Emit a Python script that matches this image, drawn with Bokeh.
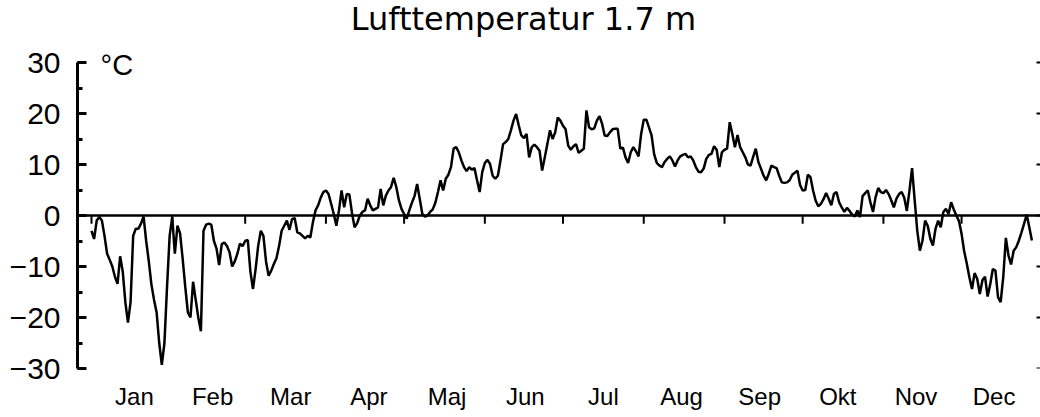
from bokeh.plotting import figure
from bokeh.models import Range1d, Span, Label, SingleIntervalTicker, FixedTicker
from bokeh.embed import file_html
from bokeh.resources import INLINE

title_text = "Lufttemperatur 1.7 m"
unit_label = "°C"
months = ["Jan", "Feb", "Mar", "Apr", "Maj", "Jun", "Jul", "Aug", "Sep", "Okt", "Nov", "Dec"]
month_start_days = [0, 31, 59, 90, 120, 151, 181, 212, 243, 273, 304, 334]
y_tick_values = [-30, -20, -10, 0, 10, 20, 30]
y_tick_labels = ["−30", "−20", "−10", "0", "10", "20", "30"]

# daily mean air temperature (°C), day 0 = 1 January
temperature = [
    -3, -4.6, -1, -0.3, -1, -4, -7.5, -8.7, -10, -12,
    -13.4, -8, -11, -17, -21, -17, -4, -2.6, -2.6, -1.6,
    -0.2, -5, -9, -13.5, -16.5, -19, -25, -29.3, -25, -14,
    -4, -0.3, -7.5, -2, -3.5, -8.5, -14, -19, -20, -13,
    -16.5, -20, -22.7, -3, -1.8, -1.6, -1.8, -5, -6.5, -9.7,
    -5.6, -5.3, -6, -7.2, -10, -9, -7.5, -5.5, -6, -5,
    -4.8, -11, -14.4, -10.5, -5.9, -3, -4, -9, -11.8, -10.8,
    -9.5, -8.4, -6, -3, -2, -1, -2.8, -0.7, -0.5, -3.3,
    -3.5, -4, -4.5, -4, -4.3, -1.3, 1, 2, 3.5, 4.6,
    4.9, 4.2, 2.3, 0.3, -2, 1, 4.9, 1.6, 4.2, 4.1,
    0.5, -2.3, -1.5, 0, 0.7, 1, 3.3, 2, 1, 1.3,
    1.6, 5.2, 2, 3.9, 4.9, 5.6, 7.4, 5.6, 3, 1.3,
    0.3, -0.6, 1, 2.5, 3.8, 6.2, 3.3, 0.3, -0.2, 0,
    0.7, 1.2, 2.5, 4.6, 6.9, 4.9, 7.2, 8, 9.5, 13.1,
    13.4, 12.4, 10.8, 9.5, 8.7, 9.5, 9, 9.3, 6.9, 4.6,
    8.5, 10.3, 10.9, 10.1, 7.8, 7.2, 7.8, 10.8, 14, 14.4,
    15, 16.7, 18.6, 19.9, 17.7, 15.7, 15.2, 16, 11.4, 13.4,
    13.9, 13.4, 12.7, 8.8, 11.4, 14, 16.7, 15, 16.3, 19.2,
    18.6, 17.6, 16.9, 13.7, 12.9, 13.6, 14, 12.3, 12.7, 13.1,
    20.6, 17.3, 16.9, 17.1, 18.6, 19.5, 18, 15.7, 15.6, 16.3,
    16.9, 17, 17, 13.1, 13.3, 11.4, 10.3, 12.4, 13.4, 12.6,
    11.6, 16, 18.8, 18.8, 17.3, 15.7, 12, 10.3, 9.8, 9.5,
    10.5, 11.1, 11.6, 10.8, 9.6, 10.8, 11.6, 11.9, 12.1, 11.4,
    11.6, 10.8, 9.5, 8.6, 8.5, 9.2, 11.1, 11.9, 12.1, 13.6,
    12.9, 9.5, 12.4, 12.9, 13.1, 18.3, 16, 13.4, 15.8, 13.4,
    12.4, 11.4, 10, 9.8, 11.5, 13.1, 10.5, 9.2, 7.8, 6.9,
    8.2, 9.8, 9.5, 9.3, 7.8, 6.5, 6.4, 6.5, 6.9, 8,
    8.4, 8.8, 6, 4.9, 5, 8, 7.5, 4.9, 2.9, 1.8,
    2.3, 3.2, 4.4, 3.3, 2, 4.2, 4.6, 2.6, 1.6, 0.7,
    1.5, 0.9, 0.2, -0.2, 1, -0.3, 3.8, 4.4, 4.9, 2.6,
    0.7, 3.6, 5.4, 4.6, 4.4, 5, 4.2, 3, 1.6, 3.3,
    4.2, 4.6, 3.5, 0.9, 4.9, 9.3, 3, -3, -6.9, -4.9,
    -1, -2, -4.5, -5.9, -2.6, -1, -2.3, 0.7, 1.3, 0.3,
    2.6, 1.2, 0, -1.1, -3.6, -7, -9.4, -12.1, -14.4, -11.3,
    -12.4, -15.4, -12.7, -12, -15.9, -13.5, -10.5, -10.8, -16, -17,
    -12.1, -4.4, -7.8, -9.6, -6.9, -6.2, -4.9, -3.3, -1.6, 0.2,
    -2.3, -4.9,
]
days = list(range(len(temperature)))

FONT = "Liberation Sans"
X_START, X_END = -5.37, 364.3
FRAME_W = 963
Y_LOW, Y_HIGH = -30, 30
Y_TOP = 42.16   # frame extends above the axis so the texts there are not clipped

p = figure(
    title=None,
    width=1040, height=417,
    x_range=Range1d(X_START, X_END), y_range=Range1d(Y_LOW, Y_TOP),
    output_backend="svg", toolbar_location=None,
    min_border_left=77, min_border_right=0, min_border_top=0, min_border_bottom=49,
)
p.outline_line_color = None
p.grid.visible = False
p.background_fill_color = "white"
p.border_fill_color = "white"

# left axis
ya = p.yaxis[0]
ya.bounds = (Y_LOW, Y_HIGH)
ya.ticker = SingleIntervalTicker(interval=10, num_minor_ticks=2)
ya.major_label_overrides = {v: s for v, s in zip(y_tick_values, y_tick_labels)}
ya.axis_line_width = 3
ya.axis_line_color = "black"
ya.major_tick_in = 9
ya.major_tick_out = 0
ya.major_tick_line_width = 3
ya.minor_tick_in = 5
ya.minor_tick_out = 0
ya.minor_tick_line_width = 3
ya.major_label_text_font = FONT
ya.major_label_text_font_size = "30px"
ya.major_label_text_color = "black"
ya.major_label_standoff = 17

# bottom axis: month names only
xa = p.xaxis[0]
label_pos = [16.5 + 30 * i for i in range(len(months))]
xa.ticker = FixedTicker(ticks=label_pos)
xa.major_label_overrides = {v: m for v, m in zip(label_pos, months)}
xa.axis_line_color = None
xa.major_tick_line_color = None
xa.minor_tick_line_color = None
xa.major_label_text_font = FONT
xa.major_label_text_font_size = "24px"
xa.major_label_text_color = "black"
xa.major_label_standoff = 8

# right-hand inward ticks at the major y values
tick_len = 4 * (X_END - X_START) / FRAME_W
p.segment(x0=[X_END - tick_len] * len(y_tick_values), y0=y_tick_values,
          x1=[X_END] * len(y_tick_values), y1=y_tick_values,
          line_color="black", line_width=2)

# zero line and month boundary ticks
p.add_layout(Span(location=0, dimension="width", line_color="black", line_width=2.5))
p.segment(x0=month_start_days, y0=[0] * len(month_start_days),
          x1=month_start_days, y1=[-1.6] * len(month_start_days),
          line_color="black", line_width=2)

# data line
p.line(days, temperature, line_color="black", line_width=2.5)

# unit label and title
p.add_layout(Label(x=3.5, y=29.6, text=unit_label, text_font=FONT, text_font_size="29px",
                   text_color="black", text_baseline="alphabetic"))
p.add_layout(Label(x=165.8, y=38.5, text=title_text, text_font="DejaVu Sans",
                   text_font_size="32px", text_color="black",
                   text_align="center", text_baseline="alphabetic"))

open("out.html", "w").write(file_html(p, INLINE))
